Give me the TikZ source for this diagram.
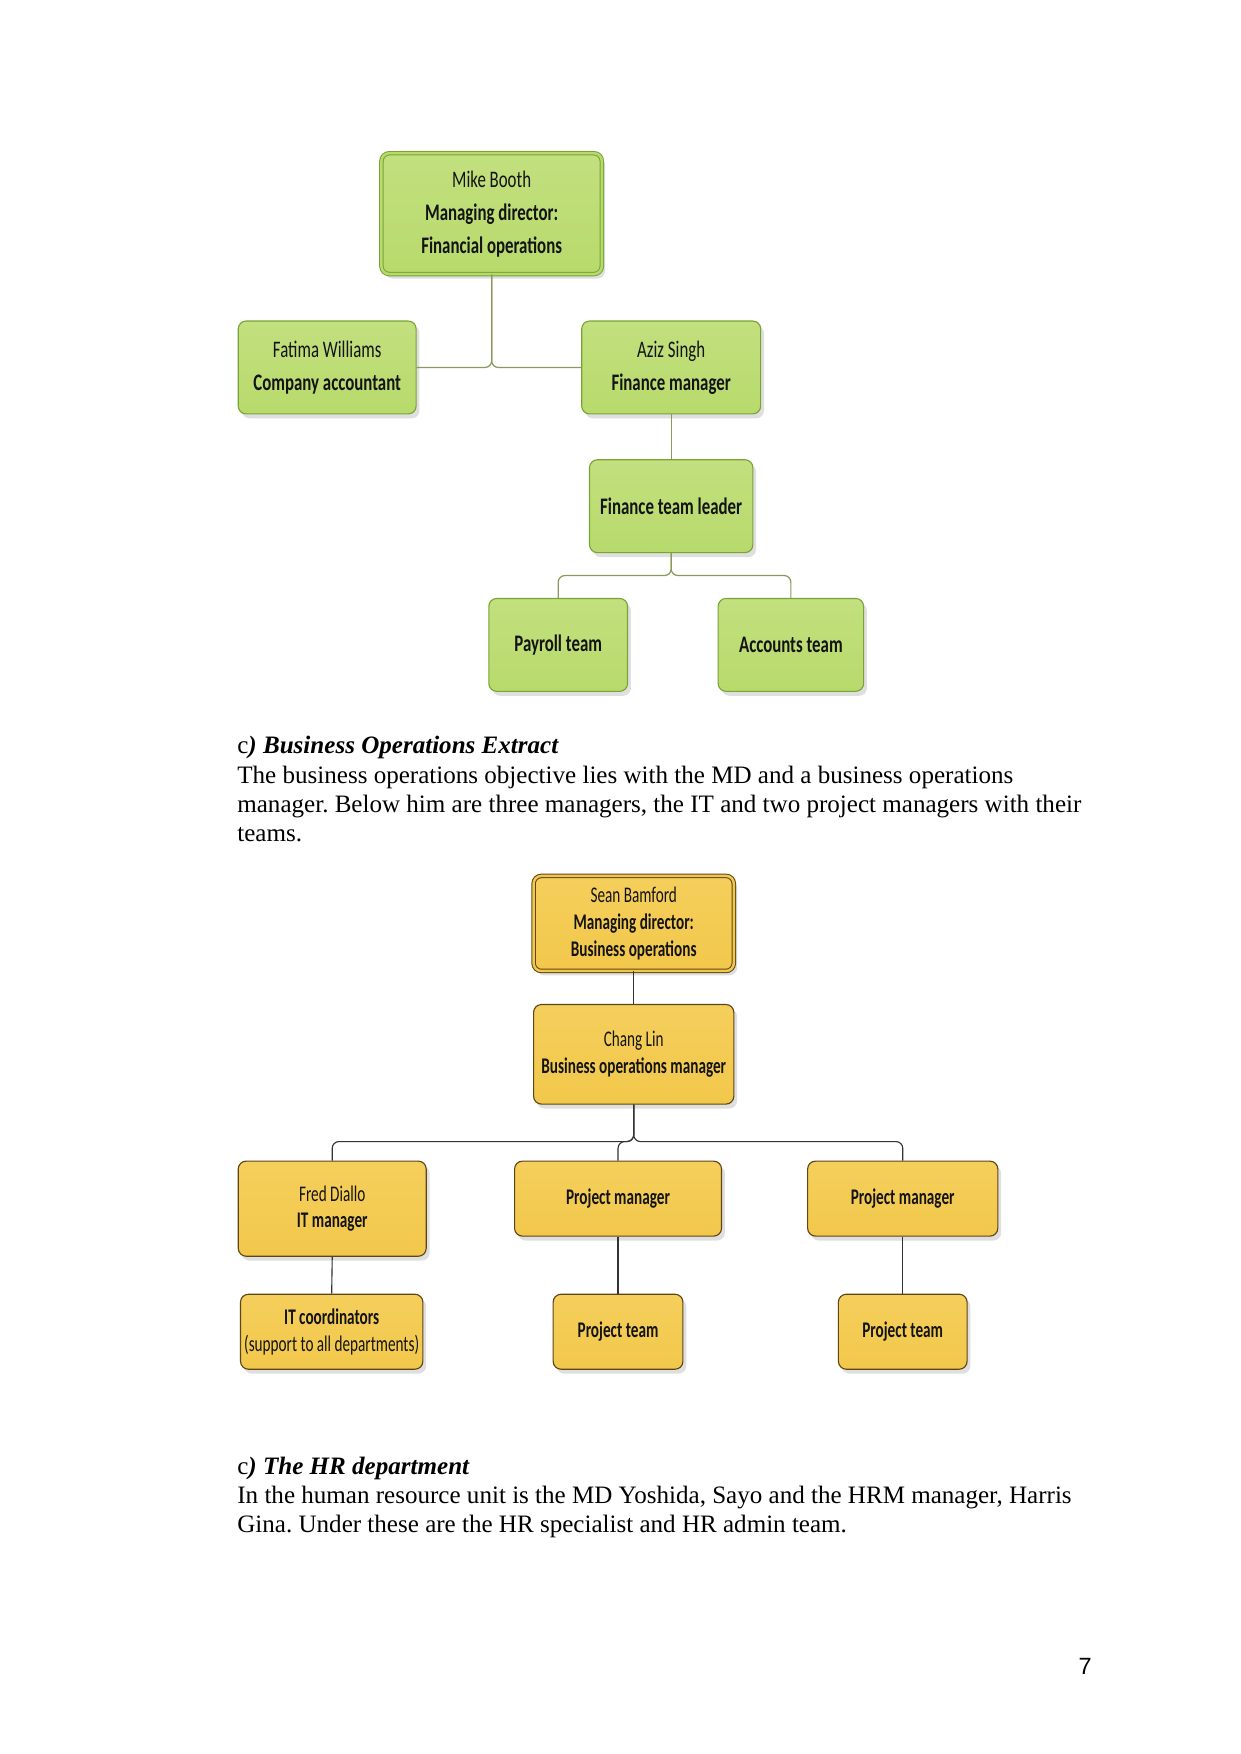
\documentclass[tikz,border=0pt]{standalone}
\usepackage{fontspec}
\setmainfont{Liberation Serif}
\newfontfamily\gfont[FakeStretch=0.71]{Carlito}
\newfontfamily\yfont[FakeStretch=0.68]{Carlito}
\newfontfamily\pfont{Liberation Sans}
\usetikzlibrary{shadows}
\frenchspacing
\definecolor{gfill}{HTML}{B8DA6C}
\definecolor{gfilltop}{HTML}{C2E07E}
\definecolor{gborder}{HTML}{78A336}
\definecolor{gline}{HTML}{8A9A5B}
\definecolor{yfill}{HTML}{F2C84B}
\definecolor{yfilltop}{HTML}{F5CF5C}
\definecolor{yborder}{HTML}{5E4515}
\definecolor{yline}{HTML}{333333}
\definecolor{txt}{HTML}{141414}
\tikzset{
  gbox/.style={draw=gborder, line width=1pt, rounded corners=7pt,
    top color=gfilltop, bottom color=gfill, align=center, text=txt,
    font=\gfont\fontsize{21.2}{29.5}\selectfont, inner sep=0pt,
    drop shadow={opacity=0.25, shadow xshift=3pt, shadow yshift=-4pt}},
  gboxmd/.style={gbox, double=gfill, double distance=2.2pt, line width=0.9pt},
  ybox/.style={draw=yborder, line width=1pt, rounded corners=7pt,
    top color=yfilltop, bottom color=yfill, align=center, text=txt,
    font=\yfont\fontsize{20}{24}\selectfont, inner sep=0pt,
    drop shadow={opacity=0.25, shadow xshift=3pt, shadow yshift=-4pt}},
  yboxmd/.style={ybox, double=yfill, double distance=2.2pt, line width=0.9pt},
  gconn/.style={draw=gline, line width=1.1pt, rounded corners=6pt},
  yconn/.style={draw=yline, line width=1pt, rounded corners=6pt},
  bodytext/.style={anchor=base west, inner sep=0pt, text=black,
    font=\fontsize{22.4}{26}\selectfont}
}
\begin{document}
\begin{tikzpicture}[x=1pt,y=-1pt]
\useasboundingbox[fill=white] (0,0) rectangle (1109,1568);

% ---------- green chart ----------
\node[gboxmd, minimum width=197pt, minimum height=108pt] (gmd) at (439.5,191)
  {Mike Booth\\\textbf{Managing director:}\\\textbf{Financial operations}};
\node[gbox, minimum width=159pt, minimum height=83pt] (gfw) at (292.5,328.5)
  {Fatima Williams\\\textbf{Company accountant}};
\node[gbox, minimum width=160pt, minimum height=83pt] (gas) at (600,328.5)
  {Aziz Singh\\\textbf{Finance manager}};
\node[gbox, minimum width=146pt, minimum height=83pt] (gftl) at (600,452.5)
  {\textbf{Finance team leader}};
\node[gbox, minimum width=124pt, minimum height=83pt] (gpay) at (499,576.5)
  {\textbf{Payroll team}};
\node[gbox, minimum width=130pt, minimum height=83pt] (gacc) at (707,576.5)
  {\textbf{Accounts team}};

\draw[gconn] (gmd.south) |- (gfw.east);
\draw[gconn] (gmd.south) |- (gas.west);
\draw[gconn] (gas.south) -- (gftl.north);
\draw[gconn] (gftl.south) -- ++(0,20) -| (gpay.north);
\draw[gconn] (gftl.south) -- ++(0,20) -| (gacc.north);

% ---------- text ----------
\node[bodytext] (t1) at (212,674) {c\textbf{\textit{) Business Operations Extract}}};
\node[bodytext] (t2) at (212,700) {The business operations objective lies with the MD and a business operations};
\node[bodytext] (t3) at (212,726) {manager. Below him are three managers, the IT and two project managers with their};
\node[bodytext] (t4) at (212,752) {teams.};

% ---------- yellow chart ----------
\node[yboxmd, minimum width=179pt, minimum height=85pt] (ymd) at (566.5,825.5)
  {Sean Bamford\\\textbf{Managing director:}\\\textbf{Business operations}};
\node[ybox, minimum width=179pt, minimum height=89pt] (ycl) at (566.5,942.5)
  {Chang Lin\\\textbf{Business operations manager}};
\node[ybox, minimum width=168pt, minimum height=85pt] (yfd) at (297,1080.5)
  {Fred Diallo\\\textbf{IT manager}};
\node[ybox, minimum width=185pt, minimum height=67pt] (ypm1) at (552.5,1071.5)
  {\textbf{Project manager}};
\node[ybox, minimum width=170pt, minimum height=67pt] (ypm2) at (807,1071.5)
  {\textbf{Project manager}};
\node[ybox, minimum width=163pt, minimum height=67pt] (yit) at (296.5,1190.5)
  {\textbf{IT coordinators}\\(support to all departments)};
\node[ybox, minimum width=116pt, minimum height=67pt] (ypt1) at (552.5,1190.5)
  {\textbf{Project team}};
\node[ybox, minimum width=115pt, minimum height=67pt] (ypt2) at (807,1190.5)
  {\textbf{Project team}};

\draw[yconn] (ymd.south) -- (ycl.north);
\draw[yconn] (ycl.south) -- ++(0,33) -| (yfd.north);
\draw[yconn] (ycl.south) -- ++(0,33) -| (ypm1.north);
\draw[yconn] (ycl.south) -- ++(0,33) -| (ypm2.north);
\draw[yconn] (yfd.south) -- (yit.north);
\draw[yconn] (ypm1.south) -- (ypt1.north);
\draw[yconn] (ypm2.south) -- (ypt2.north);

% ---------- text ----------
\node[bodytext] (t5) at (212,1318) {c\textbf{\textit{) The HR department}}};
\node[bodytext] (t6) at (212,1344) {In the human resource unit is the MD Yoshida, Sayo and the HRM manager, Harris};
\node[bodytext] (t7) at (212,1370) {Gina. Under these are the HR specialist and HR admin team.};

\node[inner sep=0pt, font=\pfont\fontsize{21}{24}\selectfont] (pn) at (970,1490) {7};
\end{tikzpicture}
\end{document}
